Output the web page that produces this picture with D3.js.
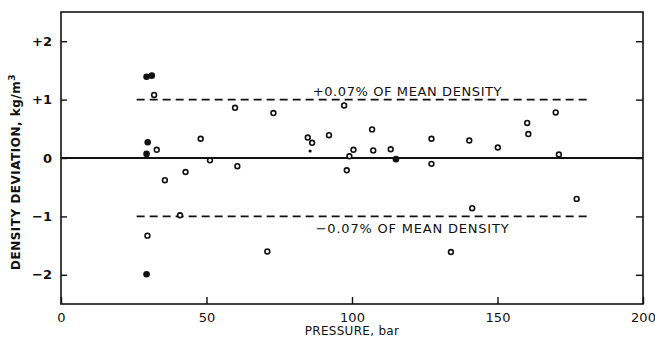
<!DOCTYPE html>
<html>
<head>
<meta charset="utf-8">
<script src="https://cdn.jsdelivr.net/npm/d3@7"></script>
<style>
  body { margin: 0; background: #fff; }
  svg { display: block; }
  text { font-family: 'DejaVu Sans', sans-serif; fill: #111; }
</style>
</head>
<body>
<div id="chart"></div>
<script>
// pressure (bar) and density deviation (kg/m3)
const openPressure = [32, 32.9, 35.7, 42.8, 40.9, 48, 51.2, 60.6, 59.8, 29.7, 73, 70.9, 84.8, 86.3, 92.1, 97.3, 98.2, 99.1, 100.5, 106.9, 107.3, 113.3, 127.3, 127.3, 140.3, 141.3, 134, 150.1, 160.2, 160.6, 170, 171.1, 177.2];
const openDeviation = [1.08, 0.14, -0.38, -0.24, -0.98, 0.33, -0.04, -0.14, 0.86, -1.33, 0.77, -1.6, 0.35, 0.26, 0.39, 0.9, -0.21, 0.03, 0.14, 0.49, 0.13, 0.15, 0.33, -0.1, 0.3, -0.86, -1.61, 0.18, 0.6, 0.41, 0.78, 0.06, -0.7];
const filledPressure = [29.4, 31.2, 29.8, 29.4, 29.4, 115.1];
const filledDeviation = [1.39, 1.41, 0.27, 0.07, -1.99, -0.02];
const smallPressure = [85.6];
const smallDeviation = [0.12];

const xTicks = [0, 50, 100, 150, 200];
const yTicks = [-2, -1, 0, 1, 2];
const yTickLabels = ['\u22122', '\u22121', '0', '+1', '+2'];
const limitLevels = [1, -1];
const limitLabels = ['+0.07% OF MEAN DENSITY', '\u22120.07% OF MEAN DENSITY'];
const limitRange = [26, 181];

const W = 655, H = 337;
const margin = { top: 12, right: 12, bottom: 33, left: 61 };
const width = W - margin.left - margin.right;
const height = H - margin.top - margin.bottom;

const svg = d3.select('#chart').append('svg')
  .attr('width', W)
  .attr('height', H)
  .append('g')
  .attr('transform', 'translate(' + margin.left + ',' + margin.top + ')');

const x = d3.scaleLinear().domain([0, 200]).range([0, width]);
const y = d3.scaleLinear().domain([-2.5, 2.5]).range([height, 0]);

// frame
svg.append('rect')
  .attr('width', width).attr('height', height)
  .attr('fill', 'none').attr('stroke', '#111').attr('stroke-width', 1.6);

// bottom axis, ticks pointing in
const xAxis = svg.append('g')
  .attr('transform', 'translate(0,' + height + ')')
  .call(d3.axisBottom(x).tickValues(xTicks).tickSize(-7).tickPadding(9).tickFormat(d3.format('d')));
xAxis.select('.domain').remove();
xAxis.selectAll('line').attr('stroke', '#111').attr('stroke-width', 1.4);
xAxis.selectAll('text').style('font-size', '13px').style('font-family', 'DejaVu Sans, sans-serif');

// left axis
const yAxis = svg.append('g')
  .call(d3.axisLeft(y).tickValues(yTicks).tickSize(-6).tickPadding(9).tickFormat((d, i) => yTickLabels[i]));
yAxis.select('.domain').remove();
yAxis.selectAll('line').attr('stroke', '#111').attr('stroke-width', 1.4);
yAxis.selectAll('text').style('font-size', '13px').style('font-weight', 'bold').style('font-family', 'DejaVu Sans, sans-serif');

// right axis ticks
const yAxisR = svg.append('g')
  .attr('transform', 'translate(' + width + ',0)')
  .call(d3.axisRight(y).tickValues(yTicks).tickSize(-7).tickFormat(''));
yAxisR.select('.domain').remove();
yAxisR.selectAll('line').attr('stroke', '#111').attr('stroke-width', 1.4);

// zero line
svg.append('line')
  .attr('x1', 0).attr('x2', width)
  .attr('y1', y(0)).attr('y2', y(0))
  .attr('stroke', '#111').attr('stroke-width', 2.2);

// limit lines
svg.selectAll('.limit').data(limitLevels).enter().append('line')
  .attr('class', 'limit')
  .attr('x1', x(limitRange[0])).attr('x2', x(limitRange[1]))
  .attr('y1', d => y(d)).attr('y2', d => y(d))
  .attr('stroke', '#111').attr('stroke-width', 1.6)
  .attr('stroke-dasharray', '8,5');

svg.append('text')
  .attr('x', x(86.5)).attr('y', y(1) - 4)
  .style('font-size', '13px').style('letter-spacing', '0.6px')
  .text(limitLabels[0]);
svg.append('text')
  .attr('x', x(87.5)).attr('y', y(-1) + 17)
  .style('font-size', '13px').style('letter-spacing', '0.8px')
  .text(limitLabels[1]);

// points
const openPts = openPressure.map((p, i) => ({ p: p, d: openDeviation[i] }));
const filledPts = filledPressure.map((p, i) => ({ p: p, d: filledDeviation[i] }));
const smallPts = smallPressure.map((p, i) => ({ p: p, d: smallDeviation[i] }));

svg.selectAll('.open').data(openPts).enter().append('circle')
  .attr('class', 'open')
  .attr('cx', d => x(d.p)).attr('cy', d => y(d.d))
  .attr('r', 2.4)
  .attr('fill', '#fff').attr('stroke', '#111').attr('stroke-width', 1.6);

svg.selectAll('.filled').data(filledPts).enter().append('circle')
  .attr('class', 'filled')
  .attr('cx', d => x(d.p)).attr('cy', d => y(d.d))
  .attr('r', 3.3)
  .attr('fill', '#111');

svg.selectAll('.small').data(smallPts).enter().append('circle')
  .attr('class', 'small')
  .attr('cx', d => x(d.p)).attr('cy', d => y(d.d))
  .attr('r', 1.6)
  .attr('fill', '#111');

// axis titles
svg.append('text')
  .attr('x', width / 2).attr('y', height + 31)
  .attr('text-anchor', 'middle')
  .style('font-size', '12px').style('letter-spacing', '0.3px')
  .text('PRESSURE, bar');

svg.append('text')
  .attr('transform', 'translate(' + (-41) + ',' + (y(0) + 14) + ') rotate(-90)')
  .attr('text-anchor', 'middle')
  .style('font-size', '12px').style('font-weight', 'bold').style('letter-spacing', '0.5px')
  .text('DENSITY DEVIATION, kg/m')
  .append('tspan').attr('dy', -5).style('font-size', '9px').text('3');
</script>
</body>
</html>
